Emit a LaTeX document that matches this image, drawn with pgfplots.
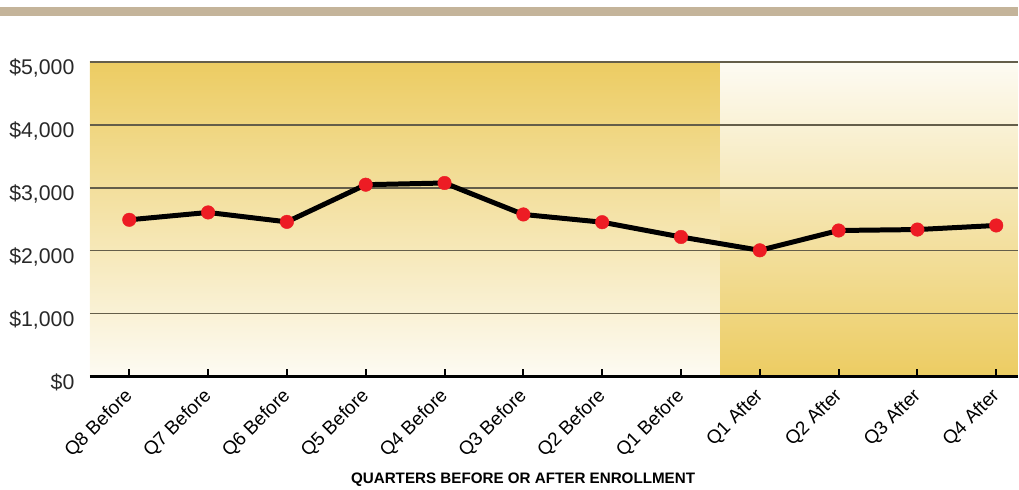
\documentclass[border=0pt]{standalone}
\usepackage{fontspec}
\setmainfont{Liberation Sans}
\usepackage{pgfplots}
\pgfplotsset{compat=1.18}
\definecolor{gold}{RGB}{236,204,98}
\definecolor{pale}{RGB}{253,251,243}
\definecolor{band}{RGB}{196,180,154}
\definecolor{gridc}{RGB}{100,94,74}
\definecolor{dotred}{RGB}{237,28,36}
\definecolor{labc}{RGB}{40,40,40}
\begin{document}
\begin{tikzpicture}[x=1pt,y=1pt]
\begin{axis}[
  set layers,
  at={(90pt,106pt)}, anchor=south west,
  scale only axis, width=929pt, height=315pt,
  xmin=-0.5, xmax=11.27, ymin=0, ymax=5000,
  axis x line*=bottom, axis y line*=left,
  x axis line style={line width=3pt, -},
  y axis line style={draw=none},
  xtick={0,...,11},
  xticklabels={Q8 Before,Q7 Before,Q6 Before,Q5 Before,Q4 Before,Q3 Before,Q2 Before,Q1 Before,Q1 After,Q2 After,Q3 After,Q4 After},
  ytick={0,1000,2000,3000,4000,5000},
  yticklabels={\$0,{\$1,000},{\$2,000},{\$3,000},{\$4,000},{\$5,000}},
  ytick style={draw=none},
  xtick style={line width=2pt, black},
  tick align=inside, major tick length=7pt,
  ymajorgrids, grid style={gridc, line width=1.6pt},
  yticklabel style={font=\fontsize{21.3}{24}\selectfont, text=labc, yshift=-6pt, xshift=-12pt},
  xticklabel style={font=\fontsize{19}{22}\selectfont, text=black, rotate=45, anchor=east, yshift=-12pt, xshift=-8pt},
  xlabel={QUARTERS BEFORE OR AFTER ENROLLMENT},
  every axis x label/.style={at={(rel axis cs:0.467,0)}, yshift=-103pt, anchor=center, font=\bfseries\fontsize{15.2}{17}\selectfont},
  clip=true,
]
\begin{pgfonlayer}{axis background}
\fill[top color=gold, bottom color=pale] (axis cs:-0.5,0) rectangle (axis cs:7.5,5000);
\fill[top color=pale, bottom color=gold] (axis cs:7.5,0) rectangle (axis cs:11.27,5000);
\end{pgfonlayer}
\addplot[line width=5pt, black, mark=*, mark size=6.8pt, mark options={solid, fill=dotred, draw=dotred, line width=0.4pt}]
coordinates {
(0,2490) (1,2607) (2,2457) (3,3048) (4,3075) (5,2575)
(6,2452) (7,2217) (8,2005) (9,2320) (10,2335) (11,2400)
};
\end{axis}
\fill[band] (0,467) rectangle (1019,476);
\path[use as bounding box] (0,0) rectangle (1019,483);
\end{tikzpicture}
\end{document}
